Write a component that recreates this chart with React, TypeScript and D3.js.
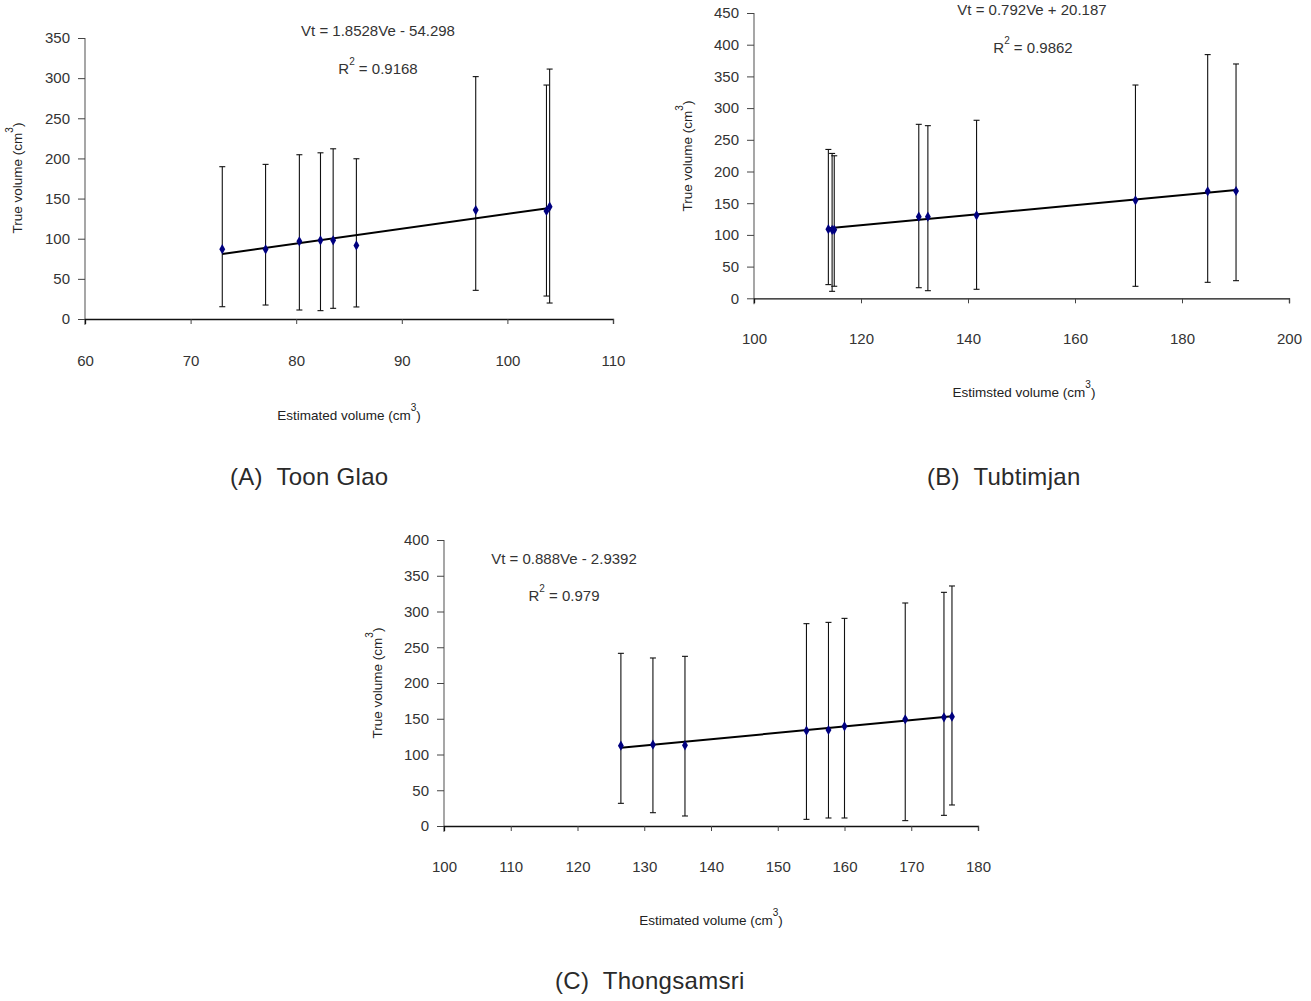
import React, { useEffect, useRef } from 'react';
import * as d3 from 'd3';

// Panel A - Toon Glao
const estA = [73.0, 77.1, 80.3, 82.3, 83.5, 85.7, 97.0, 103.7, 104.0];
const trueA = [87, 86.8, 96.7, 98, 98, 91.7, 135.7, 134.5, 139.9];
const hiA = [189.7, 192.6, 204.6, 207, 212, 199.6, 301.9, 291.4, 311.3];
const loA = [15.3, 17.4, 11.2, 10.4, 13.3, 15, 35.7, 28.6, 19.9];

// Panel B - Tubtimjan
const estB = [113.9, 114.6, 115.0, 130.8, 132.5, 141.6, 171.3, 184.8, 190.1];
const trueB = [109, 108, 108, 128.7, 128.7, 130.9, 154.6, 168.8, 169.2];
const hiB = [234.8, 228.5, 224.8, 274.4, 272.3, 280.8, 336.4, 384.4, 369.6];
const loB = [21.6, 11, 19, 16.7, 12, 14.2, 18.9, 25.2, 27.8];

// Panel C - Thongsamsri
const estC = [126.5, 131.3, 136.1, 154.3, 157.6, 160.0, 169.1, 174.9, 176.1];
const trueC = [112.3, 113.7, 112.8, 133.3, 134.3, 139.4, 149.2, 152, 152.9];
const hiC = [241.5, 235, 237.3, 283, 284.8, 290.4, 311.9, 326.8, 335.7];
const loC = [31.7, 18.6, 14, 9.3, 11.2, 11.2, 7.5, 14.9, 29.4];

const slopes = [1.8528, 0.792, 0.888];
const intercepts = [-54.298, 20.187, -2.9392];
const equations = ['Vt = 1.8528Ve - 54.298', 'Vt = 0.792Ve + 20.187', 'Vt = 0.888Ve - 2.9392'];
const r2Values = ['0.9168', '0.9862', '0.979'];
const captions = ['(A)  Toon Glao', '(B)  Tubtimjan', '(C)  Thongsamsri'];
const xTitles = ['Estimated volume (cm', 'Estimsted volume (cm', 'Estimated volume (cm'];

const FONT = '"Liberation Sans", Arial, sans-serif';

export default function App() {
  const ref = useRef(null);

  useEffect(() => {
    const svg = d3.select(ref.current);
    svg.selectAll('*').remove();

    const panels = [
      { est: estA, tru: trueA, hi: hiA, lo: loA, xd: [60, 110], xr: [85, 613], yd: [0, 350], yr: [319, 38],
        xStep: 10, pad: 31, eq: [378, 36], r2: [378, 74], xt: [349, 420], yt: [22, 178], cap: [230, 485] },
      { est: estB, tru: trueB, hi: hiB, lo: loB, xd: [100, 200], xr: [754, 1289], yd: [0, 450], yr: [298.3, 13],
        xStep: 20, pad: 30, eq: [1032, 15], r2: [1033, 53], xt: [1024, 397], yt: [692, 156], cap: [927, 485] },
      { est: estC, tru: trueC, hi: hiC, lo: loC, xd: [100, 180], xr: [444, 978], yd: [0, 400], yr: [826, 540],
        xStep: 10, pad: 30, eq: [564, 564], r2: [564, 601], xt: [711, 925], yt: [382, 683], cap: [555, 989] },
    ];

    panels.forEach((p, i) => {
      const x = d3.scaleLinear().domain(p.xd).range(p.xr);
      const y = d3.scaleLinear().domain(p.yd).range(p.yr);
      const g = svg.append('g');

      // y axis
      const ya = g.append('g')
        .attr('transform', `translate(${p.xr[0]},0)`)
        .call(d3.axisLeft(y).tickValues(d3.range(p.yd[0], p.yd[1] + 1, 50)).tickSizeOuter(0).tickSize(7).tickPadding(8));
      ya.select('.domain').attr('stroke', '#777').attr('stroke-width', 1.3).attr('d', `M0,${p.yr[1]}V${p.yr[0] + 6}`);
      ya.selectAll('.tick line').attr('stroke', '#444');
      ya.selectAll('text').attr('font-family', FONT).attr('font-size', 15).attr('fill', '#333');

      // x axis
      const xa = g.append('g')
        .attr('transform', `translate(0,${p.yr[0]})`)
        .call(d3.axisBottom(x).tickValues(d3.range(p.xd[0], p.xd[1] + 1, p.xStep)).tickSizeOuter(0).tickSize(5).tickPadding(p.pad));
      xa.select('.domain').attr('stroke', '#111').attr('stroke-width', 1.3);
      xa.selectAll('.tick line').attr('stroke', '#444').filter((d) => d === p.xd[0]).remove();
      xa.selectAll('text').attr('font-family', FONT).attr('font-size', 15).attr('fill', '#333');

      // error bars
      const bars = g.append('g').selectAll('g').data(p.est).enter().append('g');
      bars.append('line')
        .attr('x1', (d) => x(d)).attr('x2', (d) => x(d))
        .attr('y1', (d, j) => y(p.hi[j])).attr('y2', (d, j) => y(p.lo[j]))
        .attr('stroke', '#111').attr('stroke-width', 1.1);
      [p.hi, p.lo].forEach((arr) => {
        bars.append('line')
          .attr('x1', (d) => x(d) - 3).attr('x2', (d) => x(d) + 3)
          .attr('y1', (d, j) => y(arr[j])).attr('y2', (d, j) => y(arr[j]))
          .attr('stroke', '#111').attr('stroke-width', 1.1);
      });

      // regression line
      const ext = d3.extent(p.est);
      g.append('path')
        .datum(ext)
        .attr('fill', 'none').attr('stroke', '#000').attr('stroke-width', 2)
        .attr('d', d3.line().x((d) => x(d)).y((d) => y(slopes[i] * d + intercepts[i])));

      // points
      g.append('g').selectAll('path').data(p.est).enter().append('path')
        .attr('transform', (d, j) => `translate(${x(d)},${y(p.tru[j])})`)
        .attr('d', d3.symbol().type(d3.symbolDiamond).size(30))
        .attr('fill', '#000080');

      // equation and R²
      g.append('text').attr('x', p.eq[0]).attr('y', p.eq[1]).attr('text-anchor', 'middle')
        .attr('font-family', FONT).attr('font-size', 15).attr('fill', '#333').text(equations[i]);
      const r = g.append('text').attr('x', p.r2[0]).attr('y', p.r2[1]).attr('text-anchor', 'middle')
        .attr('font-family', FONT).attr('font-size', 15).attr('fill', '#333');
      r.append('tspan').text('R');
      r.append('tspan').attr('dy', -9).attr('font-size', 10).text('2');
      r.append('tspan').attr('dy', 9).text(` = ${r2Values[i]}`);

      // axis titles
      const xt = g.append('text').attr('x', p.xt[0]).attr('y', p.xt[1]).attr('text-anchor', 'middle')
        .attr('font-family', FONT).attr('font-size', 13.5).attr('fill', '#222');
      xt.append('tspan').text(xTitles[i]);
      xt.append('tspan').attr('dy', -9).attr('font-size', 10).text('3');
      xt.append('tspan').attr('dy', 9).text(')');

      const yt = g.append('text').attr('transform', `translate(${p.yt[0]},${p.yt[1]}) rotate(-90)`)
        .attr('text-anchor', 'middle').attr('font-family', FONT).attr('font-size', 13.5).attr('fill', '#222');
      yt.append('tspan').text('True volume (cm');
      yt.append('tspan').attr('dy', -9).attr('font-size', 10).text('3');
      yt.append('tspan').attr('dy', 9).text(')');

      // caption
      g.append('text').attr('x', p.cap[0]).attr('y', p.cap[1]).attr('font-family', FONT)
        .attr('font-size', 24).attr('fill', '#2a2a2a').attr('letter-spacing', 0.3)
        .style('white-space', 'pre').text(captions[i]);
    });
  }, []);

  return (
    <svg ref={ref} width={1311} height={1001} style={{ position: 'absolute', left: 0, top: 0, background: '#fff' }} />
  );
}
